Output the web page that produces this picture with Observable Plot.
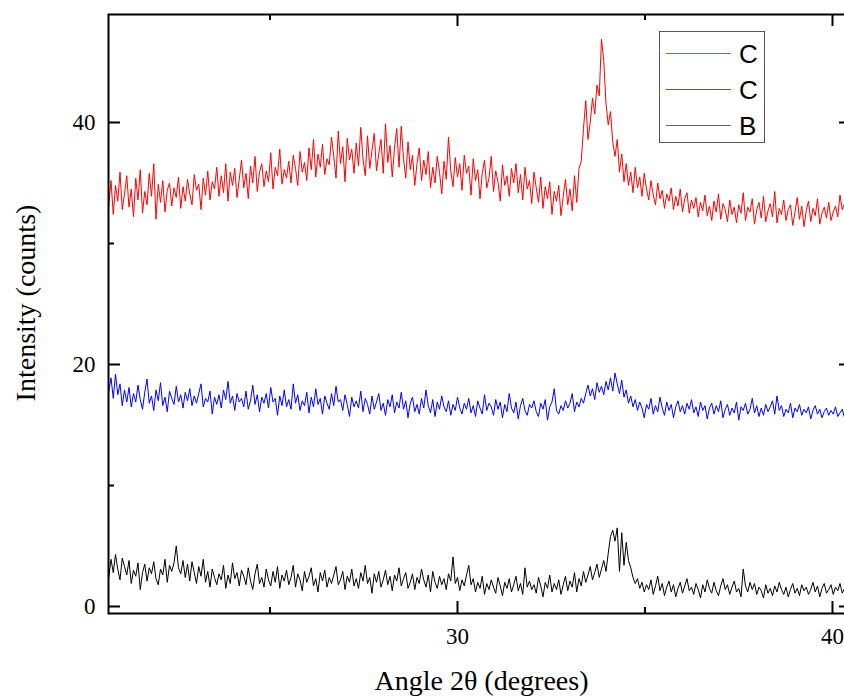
<!DOCTYPE html>
<html>
<head>
<meta charset="utf-8">
<script src="https://cdn.jsdelivr.net/npm/d3@7"></script>
<script src="https://cdn.jsdelivr.net/npm/@observablehq/plot@0.6"></script>
<style>
  html, body { margin: 0; padding: 0; background: #fff; overflow: hidden; }
  #wrap { position: relative; width: 844px; height: 698px; overflow: hidden; }
  #legend { position: absolute; left: 659px; top: 31px; }
</style>
</head>
<body>
<div id="wrap"></div>
<script>
// ---- data ----
const angleStart = 20.70;   // degrees 2θ, first sample
const angleStep = 0.06;     // sampling step of the scan

const seriesNames = ["C", "C", "B"];
const seriesColors = ["#ff0000", "#0000ff", "#000000"];

const redValues = [
  33.1, 35.2, 32.4, 34.8, 33.5, 35.9, 32.8, 34.1, 35.6, 33.0,
  34.5, 32.2, 35.4, 33.6, 36.1, 32.5, 34.3, 33.2, 35.8, 33.9,
  36.6, 32.0, 34.9, 33.4, 35.2, 32.6, 34.4, 35.0, 33.1, 34.6,
  33.8, 35.5, 32.9, 34.7, 33.5, 35.3, 34.1, 33.2, 35.7, 34.4,
  34.9, 32.8, 35.4, 34.0, 36.0, 33.6, 35.1, 34.5, 36.3, 33.9,
  35.6, 34.2, 36.6, 33.5, 35.9, 34.8, 36.2, 33.8, 35.3, 36.9,
  34.6, 35.8, 33.7, 36.4, 35.0, 37.2, 34.3, 35.9, 36.6, 34.7,
  36.0, 35.1, 37.5, 34.5, 36.3, 35.6, 37.8, 34.9, 36.1, 35.4,
  36.8, 35.0, 37.3, 36.2, 34.8, 37.6, 35.9, 36.7, 35.2, 37.9,
  36.1, 38.6, 35.5, 37.4, 36.3, 38.2, 35.7, 37.0, 36.5, 38.8,
  37.2, 35.4, 39.3, 36.6, 38.0, 35.1, 38.7, 36.9, 37.8, 35.8,
  38.3, 36.4, 39.6, 37.0, 35.6, 38.9, 36.2, 37.7, 39.1, 36.0,
  37.4, 38.6, 35.8, 39.9, 36.7, 38.1, 35.5, 37.9, 39.5, 36.3,
  39.7, 37.0, 35.4, 38.4, 36.1, 37.3, 34.8, 36.6, 37.9, 35.2,
  36.9, 35.7, 37.6, 34.6, 36.3, 35.0, 37.2, 35.9, 34.1, 36.8,
  35.3, 38.8, 36.0, 34.7, 37.1, 35.5, 36.6, 34.4, 37.3, 35.8,
  36.4, 34.0, 37.0, 35.2, 36.1, 33.7, 35.8, 36.9, 34.6, 35.4,
  37.2, 34.3, 36.0, 35.1, 33.5, 36.5, 34.8, 35.6, 33.9, 36.2,
  35.0, 36.6, 34.2, 35.7, 33.6, 36.3, 34.5, 35.2, 33.3, 35.9,
  34.6, 33.4, 35.5, 32.9, 34.7, 33.7, 35.1, 32.4, 34.3, 33.5,
  34.8, 32.3, 33.9, 35.3, 33.2, 34.5, 32.7, 35.6, 33.4, 36.2,
  36.8, 39.5, 41.8, 38.6, 40.0, 42.0, 40.7, 43.1, 42.2, 46.9,
  45.1, 41.6, 39.8, 40.9, 38.4, 37.2, 38.6, 35.9, 37.4, 35.1,
  36.6, 34.8, 35.9, 34.2, 36.3, 34.6, 35.5, 33.9, 35.8, 34.5,
  33.6, 35.2, 34.0, 33.2, 35.0, 33.7, 34.4, 32.9, 34.1, 33.5,
  34.6, 32.8, 33.9, 33.1, 34.5, 32.6, 33.7, 34.2, 32.5, 33.6,
  32.9, 33.8, 32.2, 33.4, 32.7, 34.0, 32.3, 33.1, 31.9, 33.5,
  32.6, 34.1, 32.0, 33.3, 32.8, 31.8, 33.6, 32.4, 33.0, 31.7,
  33.2, 32.5, 34.2, 31.9, 33.0, 32.6, 33.7, 31.6, 32.8, 33.4,
  32.1, 33.9, 31.8, 32.7, 33.3, 32.2, 34.3, 31.7, 32.9, 32.4,
  33.6, 31.9, 32.8, 33.2, 31.5, 32.6, 33.8, 32.0, 33.1, 31.4,
  32.7, 33.5, 31.8, 32.9, 32.3, 33.7, 31.6, 32.5, 33.0, 32.1,
  33.4, 31.9, 32.6, 33.1, 32.2, 34.0, 32.8, 33.3, 32.5, 33.6, 32.9
];

const blueValues = [
  17.8, 18.9, 17.2, 19.2, 17.5, 18.4, 16.6, 17.9, 16.9, 18.1,
  16.5, 17.6, 16.9, 18.3, 17.1, 16.3, 17.7, 18.8, 16.8, 17.4,
  16.2, 17.9, 17.0, 18.5, 16.6, 17.3, 16.1, 17.8, 17.2, 16.7,
  18.2, 16.9, 17.5, 16.4, 17.7, 17.0, 18.0, 16.6, 17.4, 16.8,
  17.6, 18.4, 16.5, 17.2, 16.9, 17.8, 15.9, 17.3, 16.7, 17.5,
  16.4, 17.9, 17.1, 18.6, 16.8, 17.4, 16.2, 17.6, 16.9, 17.2,
  16.5, 17.8, 16.3, 17.0, 18.3, 16.7, 17.5, 16.1, 17.3, 16.8,
  17.6, 16.4, 18.1, 16.9, 17.2, 15.8, 17.4, 16.6, 17.9, 16.5,
  17.1, 16.3, 18.4, 16.8, 17.5, 16.2, 17.0, 16.6, 17.7, 16.0,
  17.3, 16.5, 18.0, 16.7, 17.2, 15.9, 17.4, 16.8, 16.3, 17.6,
  16.6, 18.2, 16.9, 17.1, 16.2, 17.5, 16.7, 15.7, 17.3, 16.5,
  17.0, 16.4, 17.8, 16.1, 17.2, 16.7, 15.9, 17.4, 16.3, 16.9,
  17.6, 16.2, 16.8, 15.8, 17.1, 16.5, 17.5, 16.0, 16.9, 16.4,
  17.7, 16.3, 17.0, 15.6, 16.8, 17.3, 16.1, 16.7, 15.9, 17.2,
  16.4, 17.9, 16.6, 16.0, 17.1, 15.7, 16.9, 16.3, 17.4, 16.5,
  16.1, 17.0, 15.8, 16.7, 16.2, 17.3, 16.4, 15.9, 16.8, 16.3,
  17.2, 16.0, 16.6, 15.7, 17.0, 16.4, 15.9, 17.5, 16.2, 16.8,
  16.5, 15.8, 17.1, 16.3, 16.9, 15.6, 16.7, 16.1, 17.6, 16.4,
  16.0, 16.9, 15.5, 16.6, 17.2, 16.2, 15.8, 16.7, 16.4, 17.0,
  16.1, 15.7, 16.8, 16.3, 17.1, 15.4, 16.5, 16.9, 18.0, 16.2,
  15.9, 16.6, 16.2, 17.0, 16.4, 16.8, 17.6, 16.1, 16.9, 16.5,
  17.2, 16.8, 17.6, 18.3, 17.4, 18.0, 17.1, 18.5, 17.7, 18.2,
  17.5, 18.6, 17.9, 18.9, 17.8, 19.3, 18.4, 17.6, 18.7, 17.3,
  17.9, 16.8, 17.4, 16.5, 17.1, 16.2, 16.9, 16.4, 15.6, 16.7,
  16.3, 17.2, 15.9, 16.6, 16.1, 17.3, 16.4, 15.8, 16.9, 16.2,
  16.7, 15.6, 16.5, 17.0, 16.1, 16.6, 15.9, 16.8, 16.3, 17.1,
  16.0, 16.5, 15.7, 16.9, 16.2, 16.6, 15.5, 16.4, 16.8, 15.9,
  16.6, 16.1, 17.0, 15.6, 16.3, 16.7, 15.8, 16.4, 16.0, 16.9,
  15.4, 16.5, 16.2, 16.8, 15.9, 16.3, 17.2, 16.0, 16.6, 15.7,
  16.4, 15.8, 16.7, 16.1, 16.5, 17.0, 15.9, 17.4, 16.2, 16.6,
  15.7, 16.3, 16.0, 16.8, 15.6, 16.4, 16.1, 16.7, 15.8, 16.3,
  16.0, 16.5, 15.5, 16.2, 16.6, 15.9, 16.3, 15.6, 16.1, 16.4,
  15.8, 16.2, 15.9, 16.5, 15.7, 16.0, 16.3, 15.6, 16.1, 16.7, 16.4
];

const blackValues = [
  2.4, 3.9, 2.8, 4.3, 3.1, 2.2, 4.0, 3.3, 2.6, 3.8,
  1.9, 3.0, 2.5, 3.6, 1.4, 2.8, 3.5, 2.1, 3.2, 2.7,
  3.7, 2.3, 1.8, 3.1, 2.6, 3.9, 2.0, 3.4, 2.9, 3.6,
  5.0, 3.2, 2.7, 3.8, 2.4, 3.5, 2.1, 3.7, 2.8, 1.9,
  3.3, 2.5, 3.9, 2.0, 2.9, 1.6, 3.1, 2.4, 1.8, 2.7,
  2.2, 3.4, 1.5, 2.6, 1.9, 3.6, 2.3, 2.8, 1.7, 3.0,
  2.5, 1.8, 3.2, 2.1, 1.4, 2.7, 3.5, 1.9, 2.4, 1.6,
  3.1, 2.2, 1.7, 2.9, 2.0, 3.3, 1.5, 2.6, 2.1, 3.0,
  1.8, 2.4, 3.4, 1.6, 2.7, 2.2, 1.3, 2.9, 2.0, 2.5,
  3.2, 1.7, 2.3, 1.2, 2.8, 2.1, 3.0, 1.6, 2.4, 1.9,
  2.6, 3.3, 1.8, 2.2, 2.9, 1.4, 2.5, 2.0, 3.1, 1.7,
  2.3, 1.5, 2.8, 2.1, 3.4, 1.9, 2.4, 1.1, 2.7, 2.0,
  2.9, 1.6, 2.2, 3.0, 1.8, 2.5, 1.3, 2.6, 2.1, 3.2,
  1.7, 2.3, 2.8, 1.5, 2.0, 2.7, 1.4, 2.4, 1.9, 3.1,
  2.2, 1.6, 2.6, 1.2, 2.9, 2.0, 1.5, 2.5, 1.8, 2.3,
  1.4, 2.7, 2.1, 4.1, 1.9, 2.4, 1.3, 2.2, 1.7, 2.6,
  3.4, 1.8, 2.3, 1.2, 2.0, 1.5, 2.5, 1.0, 1.9, 1.4,
  2.2, 1.6, 1.1, 2.4, 1.7, 0.9, 2.0, 1.5, 2.3, 1.2,
  1.8, 2.5, 1.3, 1.9, 1.0, 3.2, 1.6, 2.1, 1.4, 1.8,
  1.1, 2.4, 1.7, 0.8, 2.0, 1.5, 2.6, 1.2, 1.9, 1.4,
  2.2, 1.0, 1.8, 2.5, 1.3, 2.1, 1.6, 2.8, 1.2, 2.3,
  1.7, 2.9, 2.0, 2.6, 3.3, 2.2, 2.8, 3.5, 2.4, 3.1,
  3.8, 2.9, 4.4, 5.8, 6.3, 5.4, 6.5, 2.9, 6.1, 3.4,
  5.3, 3.8, 3.2, 2.4, 1.9, 2.3, 1.5, 2.0, 1.2, 1.8,
  1.4, 2.2, 1.0, 1.7, 2.5, 1.3, 1.9, 0.9, 1.6, 2.1,
  1.2, 1.8, 0.8, 1.5, 2.0, 1.1, 1.7, 2.3, 1.3, 1.6,
  1.0, 1.9, 1.4, 0.7, 1.8, 1.2, 2.2, 1.5, 1.1, 2.0,
  1.3, 0.9, 1.7, 2.3, 1.4, 1.8, 1.0, 1.6, 2.1, 1.2,
  1.5, 0.8, 3.1, 1.7, 1.2, 2.0, 1.4, 1.9, 1.0, 1.6,
  1.3, 0.7, 1.8, 1.1, 1.5, 0.9, 1.7, 1.2, 2.0, 1.4,
  1.0, 1.6, 0.8, 1.4, 1.9, 1.1, 1.5, 0.9, 1.8, 1.3,
  1.6, 1.0, 1.4, 2.0, 1.2, 1.7, 0.8, 1.5, 1.9, 1.1,
  1.4, 1.8, 1.0, 1.6, 1.3, 1.9, 1.1, 1.5, 0.9, 1.7, 1.4
];

const xMajorTicks = [30, 40];
const xMinorTicks = [25, 35];
const yMajorTicks = [0, 20, 40];
const yMinorTicks = [10, 30];
const xDomain = [20.693, 40.507];
const yDomain = [-0.579, 48.926];

const xTitle = "Angle 2θ (degrees)";
const yTitle = "Intensity (counts)";

// ---- build table ----
const seriesValues = [redValues, blueValues, blackValues];
const rows = [];
seriesValues.forEach((vals, s) => {
  vals.forEach((v, i) => {
    rows.push({series: s, angle: +(angleStart + i * angleStep).toFixed(2), value: v});
  });
});

// ---- geometry ----
const W = 844, H = 698;
const mLeft = 108, mTop = 14, mBottom = 85, mRight = -7;
const frameW = W - mLeft - mRight;   // 743
const frameH = H - mTop - mBottom;   // 599
const majorLen = 12, minorLen = 6;

const tickStyle = {stroke: "black", strokeWidth: 2};

const chart = Plot.plot({
  width: W,
  height: H,
  marginLeft: mLeft,
  marginTop: mTop,
  marginBottom: mBottom,
  marginRight: mRight,
  style: {
    fontFamily: "'Liberation Serif', 'Times New Roman', serif",
    fontSize: "23px",
    color: "black",
    background: "white",
    overflow: "hidden"
  },
  x: {domain: xDomain, ticks: xMajorTicks, tickSize: 0, tickPadding: 14, label: null},
  y: {domain: yDomain, ticks: yMajorTicks, tickSize: 0, tickPadding: 13, label: null},
  marks: [
    ...seriesValues.map((_, s) =>
      Plot.line(rows.filter(d => d.series === s), {
        x: "angle", y: "value", stroke: seriesColors[s], strokeWidth: 1, clip: true
      })
    ),
    // inward ticks on all four sides
    Plot.tickY(yMajorTicks, {y: d => d, insetRight: frameW - majorLen, ...tickStyle}),
    Plot.tickY(yMinorTicks, {y: d => d, insetRight: frameW - minorLen, ...tickStyle}),
    Plot.tickY(yMajorTicks, {y: d => d, insetLeft: frameW - majorLen, ...tickStyle}),
    Plot.tickY(yMinorTicks, {y: d => d, insetLeft: frameW - minorLen, ...tickStyle}),
    Plot.tickX(xMajorTicks, {x: d => d, insetTop: frameH - majorLen, ...tickStyle}),
    Plot.tickX(xMinorTicks, {x: d => d, insetTop: frameH - minorLen, ...tickStyle}),
    Plot.tickX(xMajorTicks, {x: d => d, insetBottom: frameH - majorLen, ...tickStyle}),
    Plot.tickX(xMinorTicks, {x: d => d, insetBottom: frameH - minorLen, ...tickStyle}),
    Plot.frame({stroke: "black", strokeWidth: 2}),
    Plot.text([xTitle], {
      text: d => d, frameAnchor: "bottom", dy: 68, dx: 1.5,
      fontSize: 28, fill: "black", textAnchor: "middle", lineAnchor: "middle"
    }),
    Plot.text([yTitle], {
      text: d => d, frameAnchor: "left", dx: -82, dy: -11, rotate: -90,
      fontSize: 28, fill: "black", textAnchor: "middle", lineAnchor: "middle"
    })
  ]
});

const wrap = document.getElementById("wrap");
wrap.appendChild(chart);

// ---- legend ----
const legendLine = ["#ff4040", "#4848ff", "#666666"];
const ns = "http://www.w3.org/2000/svg";
const lg = document.createElementNS(ns, "svg");
lg.setAttribute("id", "legend");
lg.setAttribute("width", 106);
lg.setAttribute("height", 112);
const box = document.createElementNS(ns, "rect");
box.setAttribute("x", 0.5); box.setAttribute("y", 0.5);
box.setAttribute("width", 105); box.setAttribute("height", 111);
box.setAttribute("fill", "white"); box.setAttribute("stroke", "#555");
lg.appendChild(box);
seriesNames.forEach((name, i) => {
  const cy = 22.5 + i * 36;
  const ln = document.createElementNS(ns, "line");
  ln.setAttribute("x1", 7); ln.setAttribute("x2", 72);
  ln.setAttribute("y1", cy); ln.setAttribute("y2", cy);
  ln.setAttribute("stroke", legendLine[i]); ln.setAttribute("stroke-width", 1.2);
  lg.appendChild(ln);
  const tx = document.createElementNS(ns, "text");
  tx.setAttribute("x", 80); tx.setAttribute("y", cy);
  tx.setAttribute("dy", "0.36em");
  tx.setAttribute("font-family", "'Liberation Sans', Arial, sans-serif");
  tx.setAttribute("font-size", 26);
  tx.setAttribute("fill", "black");
  tx.textContent = name;
  lg.appendChild(tx);
});
wrap.appendChild(lg);
</script>
</body>
</html>
